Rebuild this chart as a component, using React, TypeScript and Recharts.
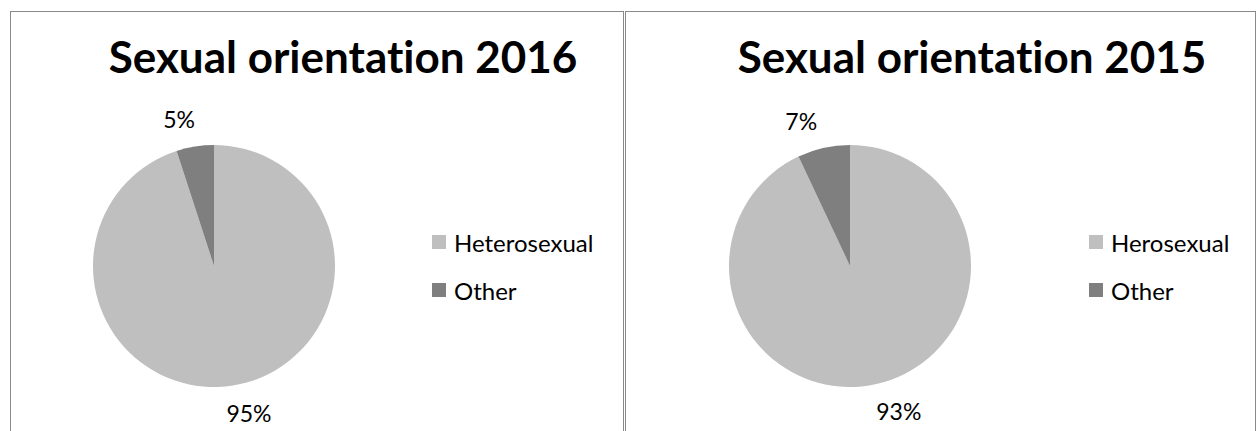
import { PieChart, Pie, Cell, Legend } from "recharts";

const titles = ["Sexual orientation 2016", "Sexual orientation 2015"];
const categories2016 = ["Heterosexual", "Other"];
const values2016 = [95, 5];
const categories2015 = ["Herosexual", "Other"];
const values2015 = [93, 7];
const colors = ["#BFBFBF", "#7F7F7F"];

const FONT = "Lato, Carlito, Calibri, sans-serif";
const RADIAN = Math.PI / 180;

// outside-end labels, pushed a little further sideways like Excel does
const renderLabel = ({ cx, cy, midAngle, outerRadius, value }: any) => {
  const r = outerRadius + 28;
  const x = cx + 1.5 * r * Math.cos(-midAngle * RADIAN);
  const y = cy + r * Math.sin(-midAngle * RADIAN);
  return (
    <text x={x} y={y} fill="#000" fontSize={23} fontFamily={FONT} textAnchor="middle" dominantBaseline="central">
      {value}%
    </text>
  );
};

const LegendBox = ({ names }: { names: string[] }) => (
  <div style={{ fontFamily: FONT, fontSize: 24, color: "#000" }}>
    {names.map((n, i) => (
      <div key={n} style={{ display: "flex", alignItems: "center", height: 48 }}>
        <span style={{ width: 14, height: 14, background: colors[i], marginRight: 8, display: "inline-block" }} />
        <span>{n}</span>
      </div>
    ))}
  </div>
);

function Panel({ title, names, values, left, width, titleCenter, pieCx, legendLeft }: any) {
  const data = names.map((n: string, i: number) => ({ name: n, value: values[i] }));
  return (
    <div style={{ position: "absolute", left, top: 11, width, height: 440, border: "1px solid #8a8a8a", boxSizing: "border-box", background: "#fff" }}>
      <div style={{ position: "absolute", left: titleCenter - 300, width: 600, top: 20, textAlign: "center", fontFamily: FONT, fontWeight: 700, fontSize: 44, lineHeight: "48px", color: "#000", fontVariantLigatures: "none", zIndex: 2 }}>
        {title}
      </div>
      <PieChart width={width - 2} height={430}>
        <Pie data={data} dataKey="value" nameKey="name" cx={pieCx} cy={249} outerRadius={121} startAngle={90} endAngle={-270} stroke="none" label={renderLabel} labelLine={false} isAnimationActive={false}>
          {data.map((d: any, i: number) => (
            <Cell key={d.name} fill={colors[i]} />
          ))}
        </Pie>
        <Legend content={() => <LegendBox names={names} />} wrapperStyle={{ left: legendLeft, top: 206, width: 200 }} />
      </PieChart>
    </div>
  );
}

export default function App() {
  return (
    <div style={{ position: "absolute", left: 0, top: 0, width: 1256, height: 431, overflow: "hidden", background: "#fff" }}>
      <Panel title={titles[0]} names={categories2016} values={values2016} left={10} width={614} titleCenter={332} pieCx={198} legendLeft={421} />
      <Panel title={titles[1]} names={categories2015} values={values2015} left={625} width={631} titleCenter={346} pieCx={219} legendLeft={463} />
    </div>
  );
}
